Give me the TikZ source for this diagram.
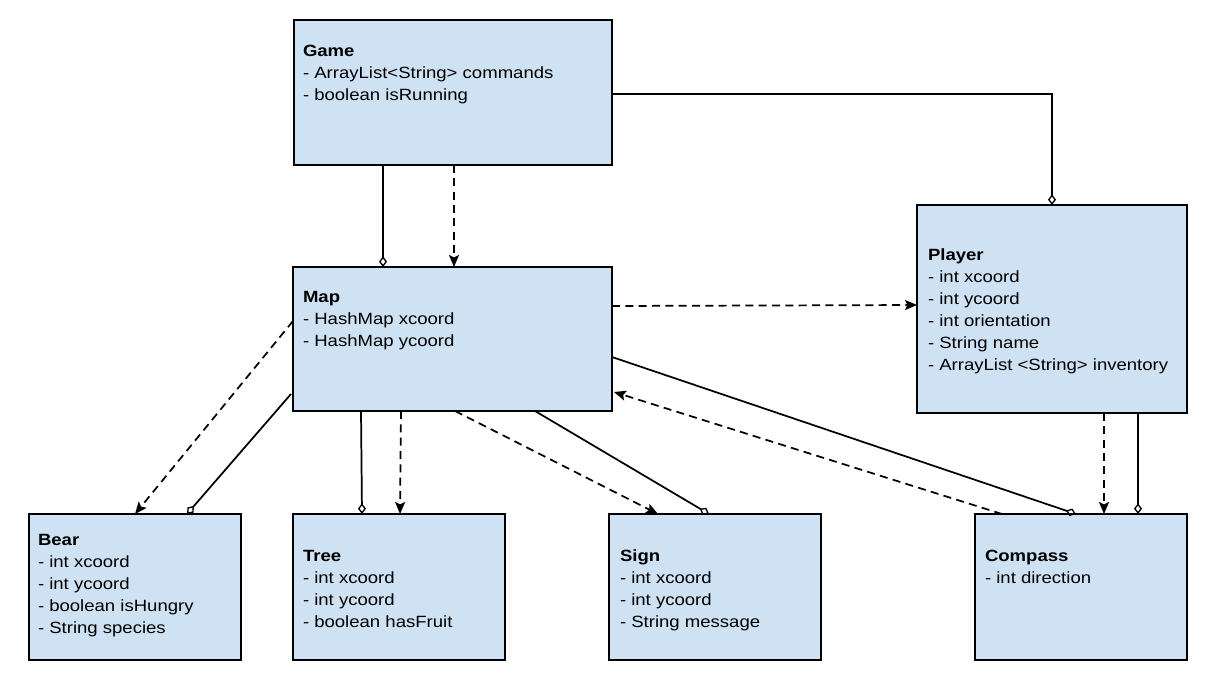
\documentclass[tikz,border=0pt]{standalone}
\usepackage{fontspec}
\setmainfont{Liberation Sans}[FakeStretch=1.14]
\usetikzlibrary{arrows.meta,calc}
\definecolor{boxblue}{HTML}{CFE2F3}
\tikzset{
  box/.style={draw=black, fill=boxblue, line width=0.9pt, inner sep=0pt, outer sep=0pt, anchor=north west},
  txt/.style={anchor=north west, inner sep=0pt, outer sep=0pt, align=left, font=\fontsize{12.2}{16.5}\selectfont},
  conn/.style={line width=1.3pt},
  dconn/.style={line width=1.3pt, dash pattern=on 6pt off 4pt},
  agg/.style={-{Diamond[open, length=8pt, width=6pt, line width=1pt]}},
  dep/.style={-{Stealth[length=9pt, width=7.5pt, inset=1.8pt]}}
}
\begin{document}
\begin{tikzpicture}[x=0.75pt,y=-0.75pt]
\useasboundingbox (0,0) rectangle (1217,681);
% boxes
\node[box, minimum width=238.5pt, minimum height=108.75pt] (game) at (294,20) {};
\node[box, minimum width=239.25pt, minimum height=108pt] (map) at (293,267) {};
\node[box, minimum width=202.5pt, minimum height=156pt] (player) at (917,205) {};
\node[box, minimum width=159pt, minimum height=109.5pt] (bear) at (29,514) {};
\node[box, minimum width=159pt, minimum height=109.5pt] (tree) at (293,514) {};
\node[box, minimum width=159pt, minimum height=109.5pt] (sign) at (609,514) {};
\node[box, minimum width=159pt, minimum height=109.5pt] (compass) at (975,514) {};
% texts
\node[txt] (gameT) at (303,45) {\textbf{Game}\\- ArrayList<String> commands\\- boolean isRunning};
\node[txt] (mapT) at (303,291) {\textbf{Map}\\- HashMap xcoord\\- HashMap ycoord};
\node[txt] (playerT) at (928,249) {\textbf{Player}\\- int xcoord\\- int ycoord\\- int orientation\\- String name\\- ArrayList <String> inventory};
\node[txt] (bearT) at (38,534) {\textbf{Bear}\\- int xcoord\\- int ycoord\\- boolean isHungry\\- String species};
\node[txt] (treeT) at (303,550) {\textbf{Tree}\\- int xcoord\\- int ycoord\\- boolean hasFruit};
\node[txt] (signT) at (620,550) {\textbf{Sign}\\- int xcoord\\- int ycoord\\- String message};
\node[txt] (compassT) at (985,550) {\textbf{Compass}\\- int direction};
% connectors
\coordinate (g1) at ($(game.south west)+(89,0)$);
\draw[conn,agg] (g1) -- (g1 |- map.north);
\coordinate (g2) at ($(game.south west)+(160,0)$);
\draw[dconn,dep] (g2) -- (g2 |- map.north);
\coordinate (g3) at ($(game.north east)+(0,74)$);
\draw[conn,agg] (g3) -| (player.north);
\draw[dconn,dep] ($(map.north east)+(0,39)$) -- ($(player.north west)+(0,100)$);
\draw[dconn,dep] ($(map.north west)+(0,54)$) -- ($(bear.north west)+(106,0)$);
\draw[conn,agg] ($(map.north west)+(-2,127)$) -- ($(bear.north west)+(158,0)$);
\draw[conn,agg] ($(map.south west)+(68,0)$) -- ($(tree.north west)+(69,0)$);
\draw[dconn,dep] ($(map.south west)+(108,0)$) -- ($(tree.north west)+(107,0)$);
\draw[dconn,dep] ($(map.south west)+(162,0)$) -- ($(sign.north west)+(49,0)$);
\draw[conn,agg] ($(map.south west)+(242,0)$) -- ($(sign.north west)+(100,0)$);
\draw[conn,agg] ($(map.north east)+(0,90)$) -- ($(compass.north west)+(101,0)$);
\draw[dconn,dep] ($(compass.north west)+(27,0)$) -- ($(map.north east)+(2,125)$);
\coordinate (p1) at ($(player.south west)+(187,0)$);
\draw[dconn,dep] (p1) -- (p1 |- compass.north);
\coordinate (p2) at ($(player.south west)+(221,0)$);
\draw[conn,agg] (p2) -- (p2 |- compass.north);
\end{tikzpicture}
\end{document}
